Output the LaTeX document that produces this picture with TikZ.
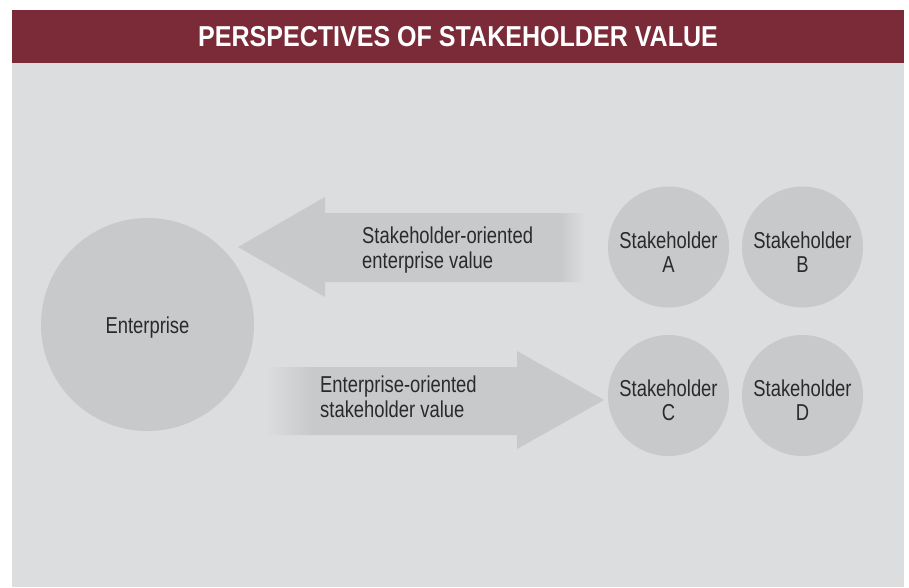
\documentclass[tikz,border=0pt]{standalone}
\usepackage{fontspec}
\setmainfont{Liberation Sans}[FakeStretch=0.80]
\newfontfamily\titlefont{Liberation Sans}[FakeStretch=0.87]
\usetikzlibrary{calc}
\definecolor{headred}{HTML}{7B2B38}
\definecolor{panelgray}{HTML}{DCDDDF}
\definecolor{blobgray}{HTML}{C8C9CB}
\definecolor{inkgray}{HTML}{2A2A2A}
% fades of the two arrow shafts
\pgfdeclarehorizontalshading{fadeleft}{100bp}{color(0bp)=(blobgray); color(71.4bp)=(blobgray); color(75bp)=(panelgray); color(100bp)=(panelgray)}
\pgfdeclarehorizontalshading{faderight}{100bp}{color(0bp)=(panelgray); color(25bp)=(panelgray); color(32bp)=(blobgray); color(100bp)=(blobgray)}
\tikzset{
  blob/.style={circle, fill=blobgray, inner sep=0pt},
  blobtext/.style={align=center, inner sep=0pt, text=inkgray, font=\fontsize{23}{24}\selectfont},
  valtext/.style={align=left, inner sep=0pt, text=inkgray, font=\fontsize{23}{25}\selectfont},
}

\begin{document}
\begin{tikzpicture}[x=1pt,y=-1pt]
        \useasboundingbox (0,0) rectangle (909,587);
        \fill[white] (0,0) rectangle (909,587);
        \fill[panelgray] (12,63) rectangle (904,587);
        \fill[headred] (12,10) rectangle (904,63);
        \node[inner sep=0pt, text=white, font=\titlefont\fontsize{28.8}{30}\selectfont\bfseries] (title) at (458,36.5) {PERSPECTIVES OF STAKEHOLDER VALUE};

        % value towards the enterprise
        \shade[shading=fadeleft] (238,247) -- (325,197) -- (325,213) -- (585,213) -- (585,282) -- (325,282) -- (325,297) -- cycle;

        % value towards the stakeholders
        \shade[shading=faderight] (604,400) -- (517,351) -- (517,367) -- (265,367) -- (265,435) -- (517,435) -- (517,449) -- cycle;

        \node[blob, minimum size=213] (ent) at (147.5,324.5) {};
        \node[blob, minimum size=121] (sa) at (668.5,247) {};
        \node[blob, minimum size=121] (sb) at (802.5,247) {};
        \node[blob, minimum size=121] (sc) at (668.5,395.5) {};
        \node[blob, minimum size=121] (sd) at (802.5,395.5) {};

        \node[blobtext, anchor=base] (enttext) at ($(ent)+(0,8.5)$) {Enterprise};
        \node[blobtext, anchor=base] (satext) at ($(sa)+(0,25)$) {Stakeholder\\A};
        \node[blobtext, anchor=base] (sbtext) at ($(sb)+(0,25)$) {Stakeholder\\B};
        \node[blobtext, anchor=base] (sctext) at ($(sc)+(0,25)$) {Stakeholder\\C};
        \node[blobtext, anchor=base] (sdtext) at ($(sd)+(0,25)$) {Stakeholder\\D};

        \node[valtext, anchor=base west] (upval) at (362,268) {Stakeholder-oriented\\enterprise value};
        \node[valtext, anchor=base west] (downval) at (320,417) {Enterprise-oriented\\stakeholder value};
\end{tikzpicture}
\end{document}
